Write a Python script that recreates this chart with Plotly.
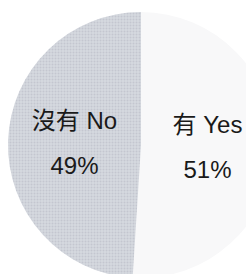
import plotly.graph_objects as go

labels = ["有 Yes", "沒有 No"]
values = [51, 49]
slice_colors = ["#f8f8f9", "#d5d8df"]

fig = go.Figure(go.Pie(
    labels=labels,
    values=values,
    sort=False,
    direction="clockwise",
    rotation=0,
    marker=dict(
        colors=slice_colors,
        line=dict(width=0),
        pattern=dict(shape=["", "."], fgcolor="#b1b5bf", bgcolor=slice_colors,
                     size=3, solidity=0.35, fillmode="overlay"),
    ),
    textinfo="text",
    texttemplate="<span style='font-size:24px'>%{label}</span><br><span style='font-size:24px'>%{percent}</span>",
    textposition="inside",
    insidetextorientation="horizontal",
    textfont=dict(family="Liberation Sans, Arial, Noto Sans CJK TC, sans-serif", size=35, color="#1a1a1a"),
    hoverinfo="skip",
    domain=dict(x=[8 / 282, 274 / 282], y=[2 / 280, 1 - 12 / 280]),
))

fig.update_layout(
    width=282, height=280,
    margin=dict(l=0, r=0, t=0, b=0),
    paper_bgcolor="white",
    showlegend=False,
)

fig.write_html(
    "out.html",
    config={"displayModeBar": False},
    post_script="document.body.style.margin='0';document.body.style.overflow='hidden';document.documentElement.style.overflow='hidden';",
)
